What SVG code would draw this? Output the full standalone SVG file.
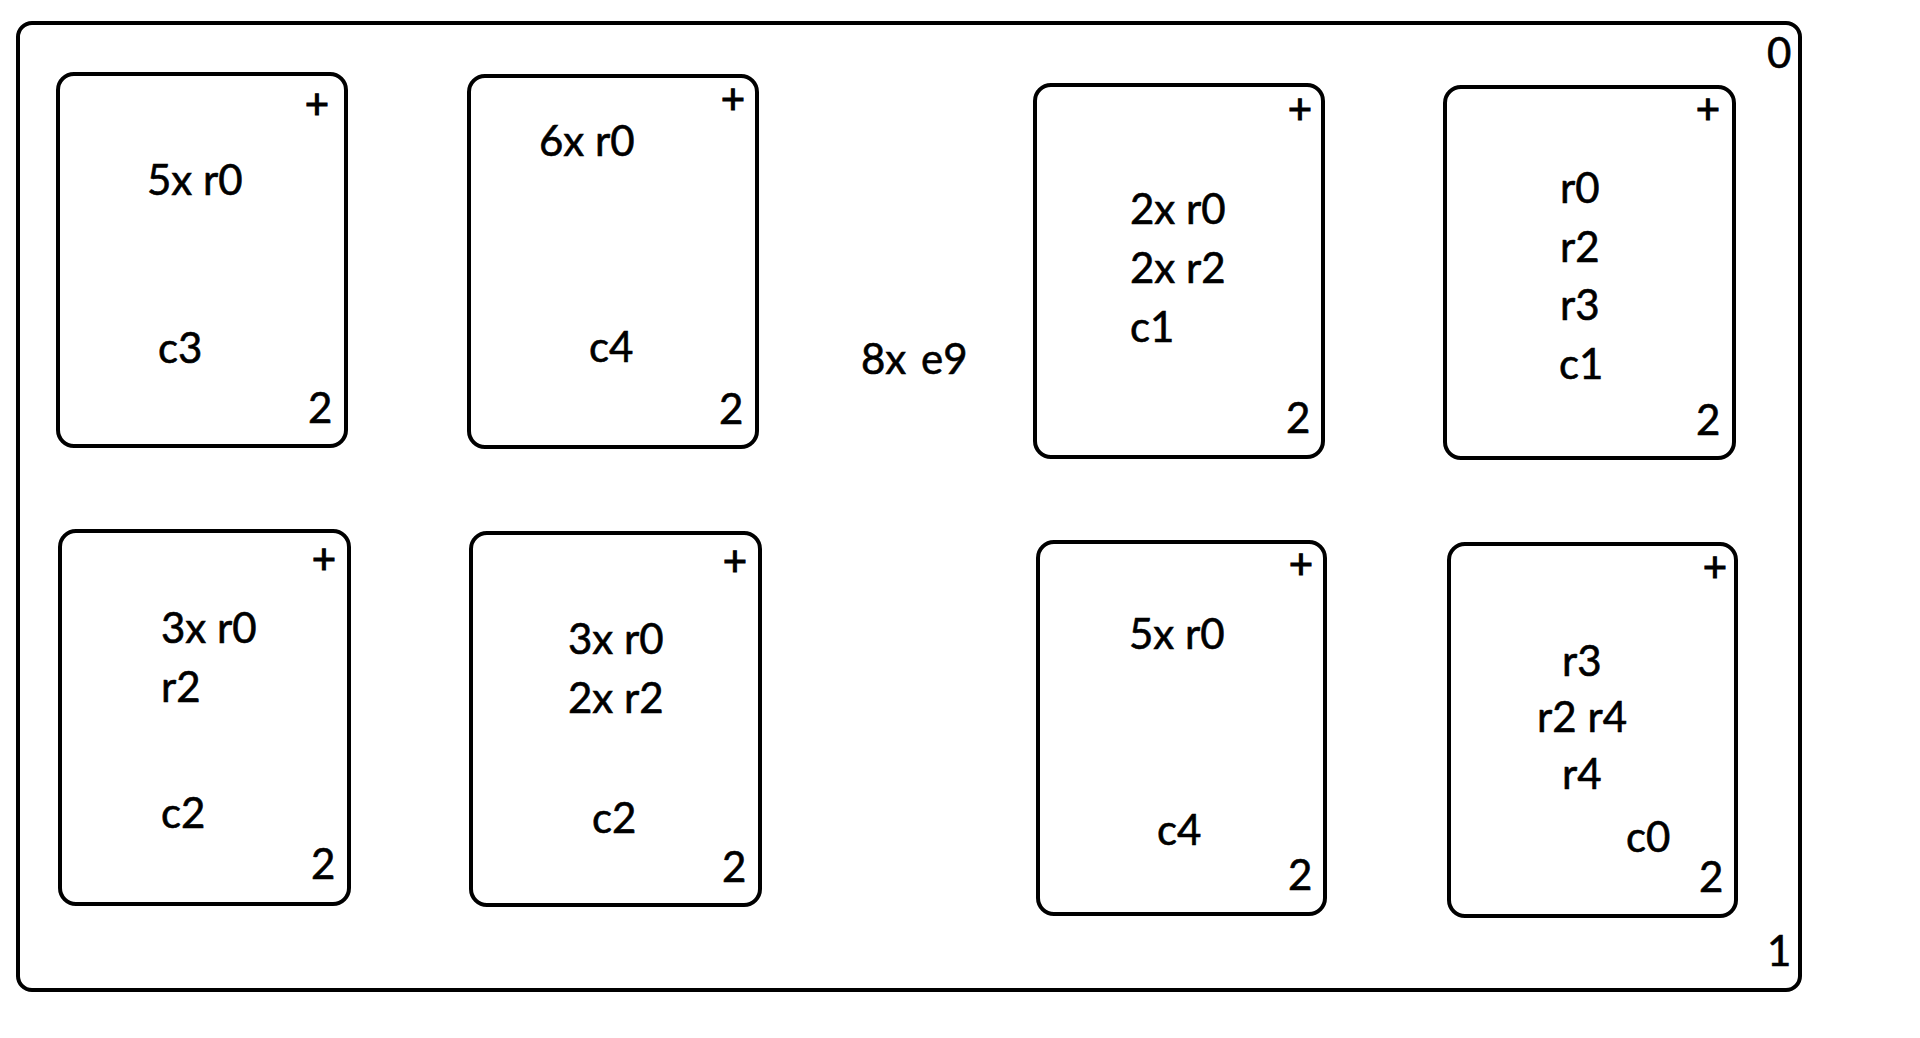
<svg xmlns="http://www.w3.org/2000/svg" width="1920" height="1038" viewBox="0 0 1920 1038">
<style>
.box{fill:#fff;stroke:#000;stroke-width:4}
.t{font-family:Lato,"Open Sans",sans-serif;font-size:42px;fill:#000;stroke:#000;stroke-width:0.6}
.p{font-family:Lato,"Open Sans",sans-serif;font-size:42px;fill:#000;stroke:#000;stroke-width:1;text-anchor:middle}
</style>
<rect width="1920" height="1038" fill="#fff"/>
<g id="outer">
<rect class="box" x="18" y="23" width="1782" height="967" rx="14"/>
<text class="t" x="1767" y="68">0</text>
<text class="t" x="1767" y="966">1</text>
<text class="t" x="861" y="374" word-spacing="4">8x e9</text>
</g>
<g id="connectors"></g>
<g id="n1">
<rect class="box" x="58" y="74" width="288" height="372" rx="16"/>
<text class="p" x="317" y="119">+</text>
<text class="t" x="147" y="195">5x r0</text>
<text class="t" x="158" y="363">c3</text>
<text class="t" x="308" y="423">2</text>
</g>
<g id="n2">
<rect class="box" x="469" y="76" width="288" height="371" rx="16"/>
<text class="p" x="733" y="114">+</text>
<text class="t" x="539" y="156">6x r0</text>
<text class="t" x="589" y="362">c4</text>
<text class="t" x="719" y="424">2</text>
</g>
<g id="n3">
<rect class="box" x="1035" y="85" width="288" height="372" rx="16"/>
<text class="p" x="1300" y="124">+</text>
<text class="t" x="1130" y="224">2x r0</text>
<text class="t" x="1130" y="283">2x r2</text>
<text class="t" x="1130" y="342">c1</text>
<text class="t" x="1286" y="433">2</text>
</g>
<g id="n4">
<rect class="box" x="1445" y="87" width="289" height="371" rx="16"/>
<text class="p" x="1708" y="124">+</text>
<text class="t" x="1560" y="203">r0</text>
<text class="t" x="1560" y="262">r2</text>
<text class="t" x="1560" y="320">r3</text>
<text class="t" x="1559" y="379">c1</text>
<text class="t" x="1696" y="435">2</text>
</g>
<g id="n5">
<rect class="box" x="60" y="531" width="289" height="373" rx="16"/>
<text class="p" x="324" y="574">+</text>
<text class="t" x="161" y="643">3x r0</text>
<text class="t" x="161" y="702">r2</text>
<text class="t" x="161" y="828">c2</text>
<text class="t" x="311" y="879">2</text>
</g>
<g id="n6">
<rect class="box" x="471" y="533" width="289" height="372" rx="16"/>
<text class="p" x="735" y="576">+</text>
<text class="t" x="568" y="654">3x r0</text>
<text class="t" x="568" y="713">2x r2</text>
<text class="t" x="592" y="833">c2</text>
<text class="t" x="722" y="882">2</text>
</g>
<g id="n7">
<rect class="box" x="1038" y="542" width="287" height="372" rx="16"/>
<text class="p" x="1301" y="579">+</text>
<text class="t" x="1129" y="649">5x r0</text>
<text class="t" x="1157" y="845">c4</text>
<text class="t" x="1288" y="890">2</text>
</g>
<g id="n8">
<rect class="box" x="1449" y="544" width="287" height="372" rx="16"/>
<text class="p" x="1715" y="582">+</text>
<text class="t" x="1562" y="676">r3</text>
<text class="t" x="1537" y="732">r2 r4</text>
<text class="t" x="1562" y="789">r4</text>
<text class="t" x="1626" y="852">c0</text>
<text class="t" x="1699" y="892">2</text>
</g>
</svg>
